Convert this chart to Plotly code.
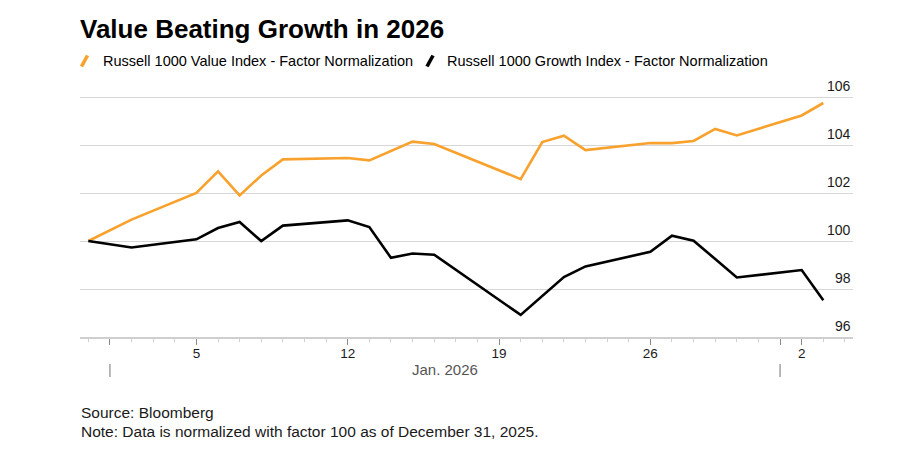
import plotly.graph_objects as go
import pandas as pd

# ---------------- data ----------------
dates = ["2025-12-31", "2026-01-02", "2026-01-05", "2026-01-06", "2026-01-07",
         "2026-01-08", "2026-01-09", "2026-01-12", "2026-01-13", "2026-01-14",
         "2026-01-15", "2026-01-16", "2026-01-20", "2026-01-21", "2026-01-22",
         "2026-01-23", "2026-01-26", "2026-01-27", "2026-01-28", "2026-01-29",
         "2026-01-30", "2026-02-02", "2026-02-03"]

value_index = [100.0, 100.89, 102.0, 102.9, 101.9, 102.73, 103.4, 103.46, 103.36, 103.75,
               104.14, 104.04, 102.58, 104.12, 104.39, 103.79, 104.08, 104.08, 104.17,
               104.67, 104.4, 105.23, 105.75]

growth_index = [100.0, 99.73, 100.07, 100.54, 100.79, 100.0, 100.64, 100.86, 100.58, 99.3,
                99.48, 99.43, 96.92, 97.7, 98.5, 98.94, 99.55, 100.22, 100.01, 99.25,
                98.48, 98.79, 97.53]

series_names = ["Russell 1000 Value Index - Factor Normalization",
                "Russell 1000 Growth Index - Factor Normalization"]

x_tick_dates = ["2026-01-01", "2026-01-05", "2026-01-12", "2026-01-19", "2026-01-26",
                "2026-02-01", "2026-02-02"]
x_tick_labels = ["", "5", "12", "19", "26", "", "2"]

month_starts = ["2026-01-01", "2026-02-01"]
month_label = "Jan. 2026"

y_ticks = [96, 98, 100, 102, 104, 106]

title = "Value Beating Growth in 2026"
footer_lines = ["Source: Bloomberg",
                "Note: Data is normalized with factor 100 as of December 31, 2025."]

# ---------------- style ----------------
ORANGE = "#F8A12C"
BLACK = "#000000"
FONT = "Liberation Sans"
PAGE_W, PAGE_H = 912, 460
OFF = 8                      # default page body margin
W, H = PAGE_W - 2 * OFF, PAGE_H - 2 * OFF
# plot area in page pixels
PL, PR, PT, PB = 80, 853, 92, 337
ML, MR, MT, MB = PL - OFF, W - (PR - OFF), PT - OFF, H - (PB - OFF)
PX_PER_UNIT = 24.0
plot_h = H - MT - MB
plot_w = W - ML - MR


def py(pix):
    """page pixel row -> paper y"""
    return (PB - pix) / plot_h


def px(pix):
    """page pixel column -> paper x"""
    return (pix - PL) / plot_w


series_colors = [ORANGE, BLACK]
legend_text_x = [100.5, 444.5]
legend_icon = [((81.5, 66.5), (87.5, 55.5)), ((427, 66.5), (433, 55.5))]

fig = go.Figure()

for name, vals, col in zip(series_names, [value_index, growth_index], series_colors):
    fig.add_trace(go.Scatter(x=dates, y=vals, mode="lines", name=name,
                             line=dict(color=col, width=2.6), showlegend=False,
                             hoverinfo="skip"))

# manual legend: slanted stroke + label
for name, col, tx, ((ax, ay), (bx, by)) in zip(series_names, series_colors,
                                                legend_text_x, legend_icon):
    fig.add_shape(type="line", xref="paper", yref="paper",
                  x0=px(ax), y0=py(ay), x1=px(bx), y1=py(by),
                  line=dict(color=col, width=3.6))
    fig.add_annotation(x=px(tx), xref="paper", y=py(60.5), yref="paper", text=name,
                       showarrow=False, xanchor="left", yanchor="middle",
                       font=dict(family=FONT, size=14.5, color="#000000"))

# y tick labels sitting above their gridlines at the right edge
for v in y_ticks:
    fig.add_annotation(x=1, xref="paper", y=v, yref="y", text=str(v),
                       showarrow=False, xanchor="right", yanchor="bottom", yshift=1.5,
                       font=dict(family=FONT, size=14, color="#1a1a1a"))

# month separators and month label
for m in month_starts:
    fig.add_shape(type="line", xref="x", yref="paper", x0=m, x1=m,
                  y0=py(364), y1=py(377), line=dict(color="#8a8a8a", width=1.2))

m0 = pd.Timestamp(month_starts[0])
m1 = pd.Timestamp(month_starts[1])
mid = m0 + (m1 - m0) / 2
fig.add_annotation(x=mid, xref="x", y=py(369.5), yref="paper", text=month_label,
                   showarrow=False, xanchor="center", yanchor="middle",
                   font=dict(family=FONT, size=15, color="#555555"))

for i, line in enumerate(footer_lines):
    fig.add_annotation(x=px(79), xref="paper", y=py(412 + i * 19), yref="paper",
                       text=line, showarrow=False, xanchor="left", yanchor="middle",
                       font=dict(family=FONT, size=15.5, color="#1a1a1a"))

x0 = pd.Timestamp(dates[0]) - pd.Timedelta(days=0.384)
x1 = pd.Timestamp(dates[-1]) + pd.Timedelta(days=1.374)

fig.update_layout(
    width=W, height=H,
    margin=dict(l=ML, r=MR, t=MT, b=MB, autoexpand=False),
    paper_bgcolor="white", plot_bgcolor="white",
    font=dict(family=FONT, color="#1a1a1a"),
    showlegend=False,
    title=dict(text="<b>" + title + "</b>", x=(PL - OFF) / W, xref="container",
               xanchor="left", y=1 - (29 - OFF) / H, yref="container", yanchor="middle",
               font=dict(family=FONT, size=26, color="#000000")),
    xaxis=dict(type="date", range=[x0, x1], showgrid=False, zeroline=False,
               showline=True, linecolor="#cfcfcf", linewidth=1.5,
               tickvals=x_tick_dates, ticktext=x_tick_labels,
               ticks="outside", ticklen=6, tickwidth=1, tickcolor="#8a8a8a",
               ticklabelstandoff=-3,
               tickfont=dict(family=FONT, size=13.5, color="#1a1a1a"),
               minor=dict(ticks="outside", ticklen=3, tickwidth=1, tickcolor="#cfcfcf",
                          dtick=86400000, tick0="2026-01-01", showgrid=False)),
    yaxis=dict(range=[96, 96 + plot_h / PX_PER_UNIT], side="right",
               tickvals=y_ticks, showticklabels=False,
               showgrid=True, gridcolor="#d6d6d6", gridwidth=1,
               zeroline=False, showline=False, ticks=""),
)

fig.write_html("out.html")
